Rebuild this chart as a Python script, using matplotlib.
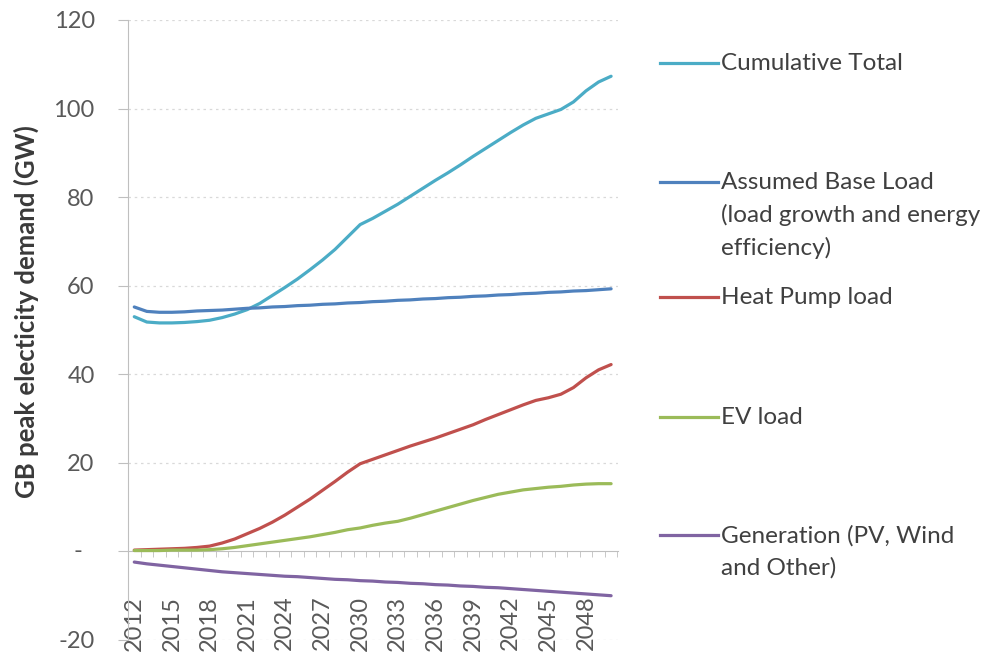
import numpy as np
import matplotlib
matplotlib.use('Agg')
import matplotlib.pyplot as plt
from matplotlib.lines import Line2D

plt.rcParams['font.family'] = ['Lato', 'DejaVu Sans']

# years on the category axis
years = list(range(2012, 2051))

cumulative_total = [53.0, 51.8, 51.6, 51.6, 51.7, 51.9, 52.2, 52.8, 53.6, 54.6,
                    56.0, 57.8, 59.6, 61.5, 63.6, 65.8, 68.2, 71.0, 73.8, 75.2,
                    76.8, 78.4, 80.2, 82.0, 83.8, 85.5, 87.3, 89.2, 91.0, 92.8,
                    94.6, 96.3, 97.8, 98.8, 99.8, 101.5, 104.0, 106.0, 107.3]
base_load = [55.2, 54.2, 54.0, 54.0, 54.1, 54.3, 54.4, 54.5, 54.7, 54.9,
             55.0, 55.2, 55.3, 55.5, 55.6, 55.8, 55.9, 56.1, 56.2, 56.4,
             56.5, 56.7, 56.8, 57.0, 57.1, 57.3, 57.4, 57.6, 57.7, 57.9,
             58.0, 58.2, 58.3, 58.5, 58.6, 58.8, 58.9, 59.1, 59.3]
heat_pump = [0.3, 0.4, 0.5, 0.6, 0.7, 0.9, 1.2, 1.9, 2.8, 4.0,
             5.2, 6.6, 8.2, 10.0, 11.8, 13.8, 15.8, 17.9, 19.8, 20.8,
             21.8, 22.8, 23.8, 24.7, 25.6, 26.6, 27.6, 28.6, 29.8, 30.9,
             32.0, 33.1, 34.1, 34.7, 35.5, 37.0, 39.2, 41.0, 42.2]
ev_load = [0.2, 0.2, 0.2, 0.3, 0.3, 0.3, 0.4, 0.6, 0.9, 1.3,
           1.7, 2.1, 2.5, 2.9, 3.3, 3.8, 4.3, 4.9, 5.3, 5.9,
           6.4, 6.8, 7.5, 8.3, 9.1, 9.9, 10.7, 11.5, 12.2, 12.9,
           13.4, 13.9, 14.2, 14.5, 14.7, 15.0, 15.2, 15.3, 15.3]
generation = [-2.4, -2.8, -3.1, -3.4, -3.7, -4.0, -4.3, -4.6, -4.8, -5.0,
              -5.2, -5.4, -5.6, -5.7, -5.9, -6.1, -6.3, -6.4, -6.6, -6.7,
              -6.9, -7.0, -7.2, -7.3, -7.5, -7.6, -7.8, -7.9, -8.1, -8.2,
              -8.4, -8.6, -8.8, -9.0, -9.2, -9.4, -9.6, -9.8, -10.0]

series = [
    (cumulative_total, '#4BACC6', 'Cumulative Total'),
    (base_load, '#4F81BD', 'Assumed Base Load\n(load growth and energy\nefficiency)'),
    (heat_pump, '#C0504D', 'Heat Pump load'),
    (ev_load, '#9BBB59', 'EV load'),
    (generation, '#8064A2', 'Generation (PV, Wind\nand Other)'),
]
# legend rows (figure y of first text line, in pixels from top)
legend_y = [63, 182, 297, 417, 535]

W, H = 1003, 664
fig = plt.figure(figsize=(W / 100, H / 100), dpi=100)
ax = fig.add_axes([128 / W, 1 - 640 / H, 490 / W, 620 / H])

for vals, col, name in series:
    ax.plot(years, vals, color=col, lw=2.3, solid_capstyle='round', zorder=3)

ax.set_xlim(2011.6, 2050.55)
ax.set_ylim(-20, 120)

# gridlines
for g in range(-20, 121, 20):
    if g != 0:
        ax.axhline(g, color='#D9D9D9', lw=0.9, ls=(0, (2, 3)), zorder=1)

axis_grey = '#BFBFBF'
tick_grey = '#595959'
for s in ['top', 'right']:
    ax.spines[s].set_visible(False)
ax.spines['left'].set_color(axis_grey)
ax.spines['bottom'].set_color(axis_grey)
ax.spines['bottom'].set_position(('data', 0))

ax.set_yticks(range(-20, 121, 20))
ax.set_yticklabels(['-20', '', '20', '40', '60', '80', '100', '120'])
ax.text(-0.094, 0, '-', transform=ax.get_yaxis_transform(), ha='right',
        va='center', fontsize=17, color=tick_grey)
ax.tick_params(axis='y', length=7, color=axis_grey, pad=17, labelsize=17,
               labelcolor=tick_grey)

ax.set_xticks(years[::3])
ax.set_xticklabels([str(y) for y in years[::3]], rotation=90, va='top')
ax.set_xticks(np.arange(2011.5, 2050.6, 1.0), minor=True)
ax.tick_params(axis='x', which='major', length=0, pad=32, labelsize=17,
               labelcolor=tick_grey)
ax.tick_params(axis='x', which='minor', length=4, color=axis_grey)

fig.text(26 / W, 1 - 312 / H, 'GB peak electicity demand (GW)', rotation=90,
         ha='center', va='center', fontsize=18.5, fontweight='bold',
         color='#3A3A3A')

# legend drawn by hand to the right of the plot
for (vals, col, name), ly in zip(series, legend_y):
    yf = 1 - ly / H
    fig.add_artist(Line2D([660 / W, 718 / W], [yf, yf], color=col, lw=2.3))
    fig.text(721 / W, 1 - (ly - 10) / H, name, ha='left', va='top',
             fontsize=17.5, color='#404040', linespacing=1.6)

fig.savefig('out.png', dpi=100)
